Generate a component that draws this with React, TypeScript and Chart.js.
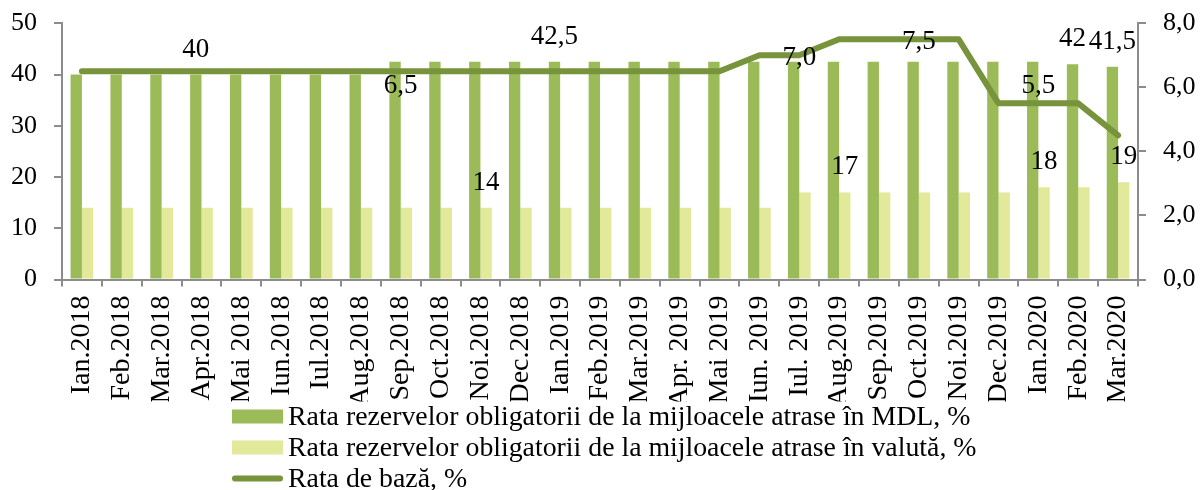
import React, { useEffect, useRef } from 'react';
import { Chart, registerables } from 'chart.js';

Chart.register(...registerables);

const categories = [
  'Ian.2018', 'Feb.2018', 'Mar.2018', 'Apr.2018', 'Mai 2018', 'Iun.2018', 'Iul.2018', 'Aug.2018',
  'Sep.2018', 'Oct.2018', 'Noi.2018', 'Dec.2018', 'Ian.2019', 'Feb.2019', 'Mar.2019', 'Apr. 2019',
  'Mai 2019', 'Iun. 2019', 'Iul. 2019', 'Aug.2019', 'Sep.2019', 'Oct.2019', 'Noi.2019', 'Dec.2019',
  'Ian.2020', 'Feb.2020', 'Mar.2020',
];

const mdlRate = [
  40, 40, 40, 40, 40, 40, 40, 40,
  42.5, 42.5, 42.5, 42.5, 42.5, 42.5, 42.5, 42.5,
  42.5, 42.5, 42.5, 42.5, 42.5, 42.5, 42.5, 42.5,
  42.5, 42, 41.5,
];

const fxRate = [
  14, 14, 14, 14, 14, 14, 14, 14,
  14, 14, 14, 14, 14, 14, 14, 14,
  14, 14, 17, 17, 17, 17, 17, 17,
  18, 18, 19,
];

const baseRate = [
  6.5, 6.5, 6.5, 6.5, 6.5, 6.5, 6.5, 6.5,
  6.5, 6.5, 6.5, 6.5, 6.5, 6.5, 6.5, 6.5,
  6.5, 7.0, 7.0, 7.5, 7.5, 7.5, 7.5, 5.5,
  5.5, 5.5, 4.5,
];

const mdlLabelIdx = [3, 12, 25, 26];
const fxLabelIdx = [10, 19, 24, 26];
const baseLabelIdx = [8, 18, 21, 24];

const legendLabels = [
  'Rata rezervelor obligatorii de la mijloacele atrase în MDL, %',
  'Rata rezervelor obligatorii de la mijloacele atrase în valută, %',
  'Rata de bază, %',
];

const FONT = '"Liberation Serif", "Times New Roman", serif';
const C_MDL = '#9BBB59';
const C_FX = '#E2E99B';
const C_LINE = '#77933C';
const C_AXIS = '#8C8C8C';

const fmtBar = (v: number) => String(v).replace('.', ',');
const fmtBase = (v: number) => v.toFixed(1).replace('.', ',');

const labelPlugin = {
  id: 'valueLabels',
  afterDatasetsDraw(chart: any) {
    const ctx = chart.ctx;
    ctx.save();
    ctx.font = `27px ${FONT}`;
    ctx.fillStyle = '#000';
    ctx.textAlign = 'center';
    ctx.textBaseline = 'middle';
    const lineMeta = chart.getDatasetMeta(0);
    const mdlMeta = chart.getDatasetMeta(1);
    const fxMeta = chart.getDatasetMeta(2);
    mdlLabelIdx.forEach((i) => {
      const el = mdlMeta.data[i];
      ctx.fillText(fmtBar(mdlRate[i]), el.x, el.y - 25);
    });
    fxLabelIdx.forEach((i) => {
      const el = fxMeta.data[i];
      ctx.fillText(fmtBar(fxRate[i]), el.x, el.y - 25);
    });
    const baseOffsets = [15, 3, 3, -17];
    baseLabelIdx.forEach((i, k) => {
      const el = lineMeta.data[i];
      ctx.fillText(fmtBase(baseRate[i]), el.x, el.y + baseOffsets[k]);
    });
    ctx.restore();
  },
};

const legendPlugin = {
  id: 'customLegend',
  afterDraw(chart: any) {
    const ctx = chart.ctx;
    const top = chart.scales.x.bottom;
    const x0 = 232;
    const boxW = 51;
    const rows = [top + 15, top + 46, top + 77];
    ctx.save();
    ctx.font = `27.8px ${FONT}`;
    ctx.textAlign = 'left';
    ctx.textBaseline = 'middle';
    ctx.fillStyle = C_MDL;
    ctx.fillRect(x0, rows[0] - 7, boxW, 14);
    ctx.fillStyle = C_FX;
    ctx.fillRect(x0, rows[1] - 7, boxW, 14);
    ctx.strokeStyle = C_LINE;
    ctx.lineWidth = 6;
    ctx.lineCap = 'round';
    ctx.beginPath();
    ctx.moveTo(x0 + 3, rows[2]);
    ctx.lineTo(x0 + boxW - 3, rows[2]);
    ctx.stroke();
    ctx.fillStyle = '#000';
    legendLabels.forEach((t, k) => {
      ctx.fillText(t, x0 + boxW + 5, rows[k] + 1);
    });
    ctx.restore();
  },
};

const fitVertical = (s: any) => {
  s.width = 62;
  s.paddingTop = 0;
  s.paddingBottom = 0;
};

export default function App() {
  const ref = useRef<HTMLCanvasElement>(null);
  useEffect(() => {
    document.body.style.margin = '0';
    const chart = new Chart(ref.current as HTMLCanvasElement, {
      type: 'bar',
      data: {
        labels: categories,
        datasets: [
          {
            type: 'line',
            label: legendLabels[2],
            data: baseRate,
            yAxisID: 'y1',
            borderColor: C_LINE,
            backgroundColor: C_LINE,
            borderWidth: 6,
            pointRadius: 0,
            borderCapStyle: 'round',
            borderJoinStyle: 'round',
            tension: 0,
          } as any,
          {
            type: 'bar',
            label: legendLabels[0],
            data: mdlRate,
            yAxisID: 'y',
            backgroundColor: C_MDL,
            categoryPercentage: 0.57,
            barPercentage: 1.0,
          },
          {
            type: 'bar',
            label: legendLabels[1],
            data: fxRate,
            yAxisID: 'y',
            backgroundColor: C_FX,
            categoryPercentage: 0.57,
            barPercentage: 1.0,
          },
        ],
      },
      options: {
        responsive: true,
        maintainAspectRatio: false,
        animation: false,
        layout: { padding: { top: 23.3, bottom: 88.5, left: 0, right: 0 } },
        plugins: {
          legend: { display: false },
          tooltip: { enabled: false },
        },
        scales: {
          x: {
            type: 'category',
            offset: true,
            grid: { offset: true, drawOnChartArea: false, tickLength: 7, color: C_AXIS, lineWidth: 2 },
            border: { color: C_AXIS, width: 2 },
            ticks: {
              autoSkip: false,
              minRotation: 90,
              maxRotation: 90,
              padding: 9,
              color: '#000',
              font: { family: FONT, size: 28 },
            },
            afterFit: (s: any) => {
              s.height = 122;
              s.paddingLeft = 0;
              s.paddingRight = 0;
            },
          },
          y: {
            position: 'left',
            min: 0,
            max: 50,
            grid: { drawOnChartArea: false, tickLength: 8, color: C_AXIS, lineWidth: 2 },
            border: { color: C_AXIS, width: 2 },
            ticks: {
              stepSize: 10,
              padding: 17,
              color: '#000',
              font: { family: FONT, size: 26 },
            },
            afterFit: fitVertical,
          },
          y1: {
            position: 'right',
            min: 0,
            max: 8,
            grid: { drawOnChartArea: false, tickLength: 8, color: C_AXIS, lineWidth: 2 },
            border: { color: C_AXIS, width: 2 },
            ticks: {
              stepSize: 2,
              padding: 17,
              color: '#000',
              font: { family: FONT, size: 26 },
              callback: (v: any) => fmtBase(Number(v)),
            },
            afterFit: fitVertical,
          },
        },
      },
      plugins: [labelPlugin, legendPlugin],
    });
    return () => chart.destroy();
  }, []);
  return (
    <div style={{ width: 1200, height: 490, position: 'relative' }}>
      <canvas ref={ref} />
    </div>
  );
}
